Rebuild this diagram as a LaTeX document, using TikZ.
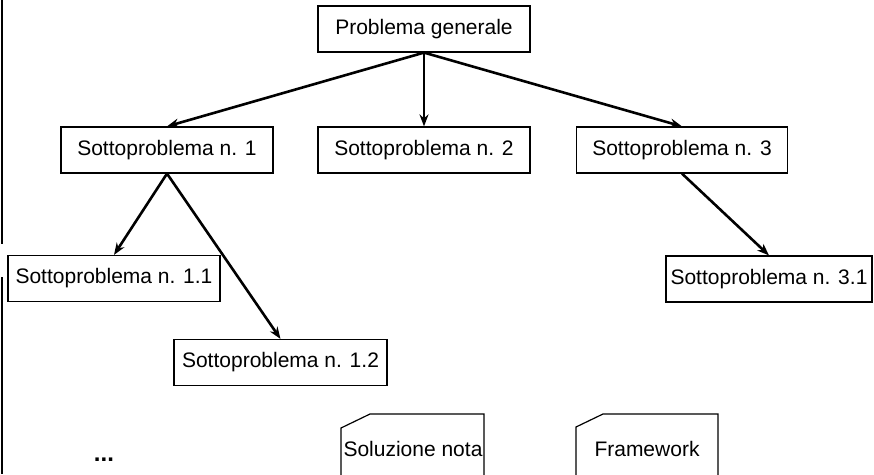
\documentclass[tikz,border=0pt]{standalone}
\usepackage{fontspec}
\setmainfont{Liberation Sans}
\usetikzlibrary{arrows.meta}
\begin{document}
\begin{tikzpicture}[x=1pt,y=-1pt,
  box/.style={draw=black,line width=1.2pt,fill=white,minimum width=212pt,minimum height=46pt,inner sep=0pt,font=\fontsize{21}{25}\selectfont},
  lbl/.style={inner sep=0pt,font=\fontsize{21}{25}\selectfont},
  arr/.style={line width=2.6pt,-{Stealth[length=12pt,width=9pt]}},
  note/.style={draw=black,line width=1.2pt}]
\useasboundingbox (0,0) rectangle (874,474);
% left edge line
\draw[line width=2.5pt] (2,0) -- (2,244);
\draw[line width=2.5pt] (2,277) -- (2,474);
\node[box] (pg) at (424,29) {Problema generale};
\node[box] (s1) at (167,150) {Sottoproblema n. 1};
\node[box] (s2) at (424,150) {Sottoproblema n. 2};
\node[box,minimum width=211pt] (s3) at (682,150) {Sottoproblema n. 3};
\node[box] (s11) at (114,278.5) {Sottoproblema n. 1.1};
\node[box,minimum width=213pt] (s12) at (280.5,362.5) {Sottoproblema n. 1.2};
\node[box,minimum width=206pt] (s31) at (769,279) {Sottoproblema n. 3.1};
\draw[arr] (pg.south) -- (s1.north);
\draw[arr] (pg.south) -- (s2.north);
\draw[arr] (pg.south) -- (s3.north);
\draw[arr] (s1.south) -- (s11.north);
\draw[arr] (s1.south) -- (s12.north);
\draw[arr] (s3.south) -- (s31.north);
% note shapes
\draw[note] (341,476) -- (341,428) -- (370,414) -- (484,414) -- (484,476);
\node[lbl] (sol) at (413,449) {Soluzione nota};
\draw[note] (576,476) -- (576,427) -- (603,414) -- (718,414) -- (718,476);
\node[lbl] (fw) at (647,449) {Framework};
\node[lbl,anchor=base,font=\fontsize{24}{28}\selectfont\bfseries] (dots) at (104,461) {...};
\end{tikzpicture}
\end{document}
